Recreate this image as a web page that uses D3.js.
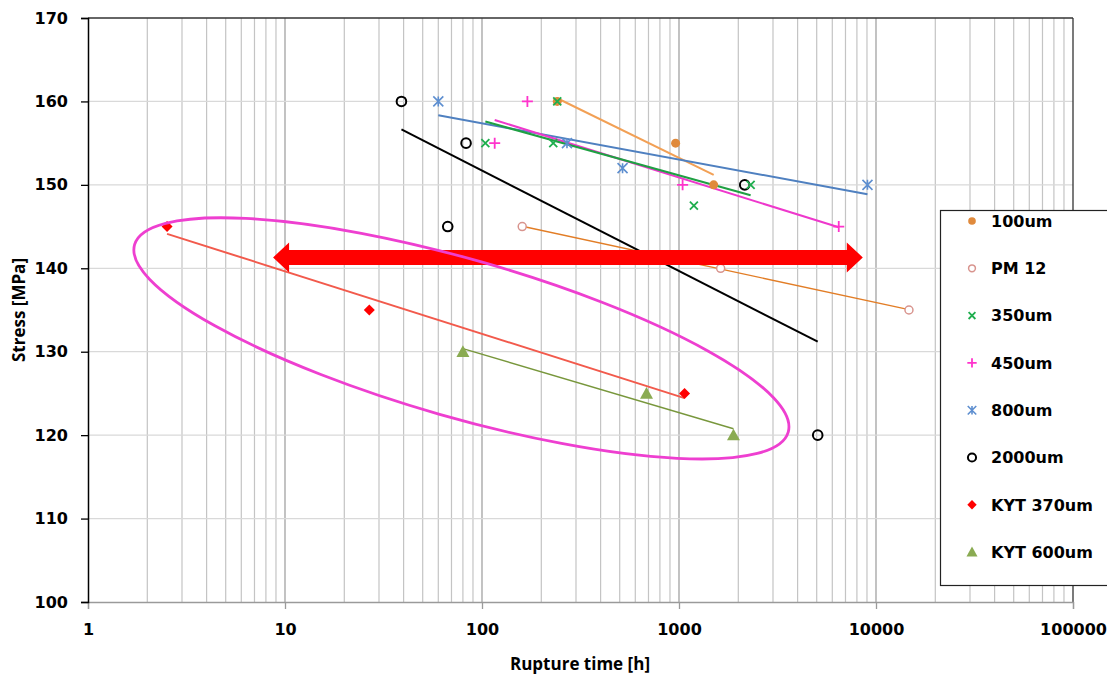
<!DOCTYPE html>
<html><head><meta charset="utf-8">
<script src="https://cdn.jsdelivr.net/npm/d3@7"></script>
<style>body{margin:0;background:#fff;}svg{display:block;}</style>
</head><body>
<svg id="c" width="1107" height="675"></svg>
<script>
// ---- data ----
const seriesNames = ["100um","PM 12","350um","450um","800um","2000um","KYT 370um","KYT 600um"];
const s100um   = [[241,160],[961,155],[1500,150]];
const sPM12    = [[160,145],[1627,140],[14700,135]];
const s350um   = [[104,155],[230,155],[241,160],[1190,147.5],[2310,150]];
const s450um   = [[116,155],[170,160],[1043,150],[6470,145]];
const s800um   = [[60,160],[270,155],[517,152],[9050,150]];
const s2000um  = [[39,160],[83,155],[67,145],[2155,150],[5060,120]];
const sKYT370  = [[2.52,145],[26.8,135],[1067,125]];
const sKYT600  = [[80,130],[684,125],[1890,120]];
const xTicks = [1,10,100,1000,10000,100000];
const yTicks = [100,110,120,130,140,150,160,170];
const arrowRange = [8.7, 8570, 141.3];      // x from, x to, stress
const ellipseCenter = [78.6, 131.6];        // rupture time, stress

const W=1107,H=675;
const svg=d3.select("#c");
const x=d3.scaleLog().domain([1,100000]).range([88,1073]);
const y=d3.scaleLinear().domain([100,170]).range([602,18]);

const styles={
 "100um":   {data:s100um, color:"#e08a3c", line:"#f2a055", lw:2,   sym:"dot"},
 "PM 12":   {data:sPM12,  color:"#d8948e", line:"#e27d26", lw:1.4, sym:"ocircle"},
 "350um":   {data:s350um, color:"#1fae4e", line:"#1fa043", lw:2,   sym:"x"},
 "450um":   {data:s450um, color:"#ff33cc", line:"#ee38cc", lw:2,   sym:"plus"},
 "800um":   {data:s800um, color:"#5e8fd0", line:"#4f80c0", lw:2,   sym:"star"},
 "2000um":  {data:s2000um,color:"#000",    line:"#000",    lw:2,   sym:"bcircle"},
 "KYT 370um":{data:sKYT370,color:"#ff0000",line:"#f25a4c", lw:2,   sym:"diamond"},
 "KYT 600um":{data:sKYT600,color:"#8aab52",line:"#78973c", lw:1.5, sym:"tri"}
};

// grid
const g=svg.append("g");
for(let k=0;k<5;k++){for(let m=2;m<=9;m++){const v=m*Math.pow(10,k);
 g.append("line").attr("x1",x(v)).attr("x2",x(v)).attr("y1",18).attr("y2",602).attr("stroke","#c4c4c4").attr("stroke-width",1.2);}}
xTicks.slice(1,-1).forEach(v=>g.append("line").attr("x1",x(v)).attr("x2",x(v)).attr("y1",18).attr("y2",602).attr("stroke","#a2a2a2").attr("stroke-width",1.3));
yTicks.slice(1,-1).forEach(v=>g.append("line").attr("x1",88).attr("x2",1073).attr("y1",y(v)).attr("y2",y(v)).attr("stroke","#d9d9d9").attr("stroke-width",1.2));

// borders/axes
svg.append("line").attr("x1",88).attr("x2",1073).attr("y1",18).attr("y2",18).attr("stroke","#333").attr("stroke-width",1.3);
svg.append("line").attr("x1",1073).attr("x2",1073).attr("y1",18).attr("y2",602).attr("stroke","#333").attr("stroke-width",1.3);
const xa=svg.append("g").attr("transform","translate(0,602)")
 .call(d3.axisBottom(x).tickValues(xTicks).tickFormat(d3.format("d")).tickSize(7).tickPadding(12));
xa.select(".domain").attr("stroke","#9a9a9a").attr("stroke-width",1.3);
xa.selectAll(".tick line").attr("stroke","#9a9a9a").attr("stroke-width",1.3);
const ya=svg.append("g").attr("transform","translate(88,0)")
 .call(d3.axisLeft(y).tickValues(yTicks).tickSize(7).tickPadding(13));
ya.select(".domain").attr("stroke","#000").attr("stroke-width",1.5);
ya.selectAll(".tick line").attr("stroke","#000").attr("stroke-width",1.3);
svg.selectAll(".tick text").attr("font-family","DejaVu Sans").attr("font-weight","bold").attr("font-size",16).attr("fill","#000");
xa.selectAll(".tick text").attr("dy","0.9em");

// titles
svg.append("text").attr("x",580).attr("y",670).attr("text-anchor","middle")
 .attr("font-family","Open Sans").attr("font-weight",700).attr("font-size",17).text("Rupture time [h]");
svg.append("text").attr("transform","translate(25,310) rotate(-90)").attr("text-anchor","middle")
 .attr("font-family","Open Sans").attr("font-weight",700).attr("font-size",17).text("Stress [MPa]");

// trend lines (least squares on log10 time)
function fit(data){const lx=data.map(d=>Math.log10(d[0])),ys=data.map(d=>d[1]);
 const mx=d3.mean(lx),my=d3.mean(ys);let sxy=0,sxx=0;
 lx.forEach((v,i)=>{sxy+=(v-mx)*(ys[i]-my);sxx+=(v-mx)*(v-mx);});
 const b=sxy/sxx,a=my-b*mx;const x0=d3.min(data,d=>d[0]),x1=d3.max(data,d=>d[0]);
 return [[x0,a+b*Math.log10(x0)],[x1,a+b*Math.log10(x1)]];}
const lineGen=d3.line().x(d=>x(d[0])).y(d=>y(d[1]));
const order=["PM 12","2000um","KYT 600um","KYT 370um","100um","800um","450um","350um"];
order.forEach(n=>{const s=styles[n];
 svg.append("path").attr("d",lineGen(fit(s.data))).attr("fill","none").attr("stroke",s.line).attr("stroke-width",s.lw);});

// markers
function marker(sel,sym,color,sc){
 sc=sc||1;
 if(sym==="dot") sel.append("circle").attr("r",4.5*sc).attr("fill",color);
 else if(sym==="ocircle") sel.append("circle").attr("r",4*sc).attr("fill","#fff").attr("stroke",color).attr("stroke-width",1.5);
 else if(sym==="bcircle") sel.append("circle").attr("r",4.8*sc).attr("fill","none").attr("stroke",color).attr("stroke-width",2);
 else if(sym==="x"){const r=4*sc;sel.append("path").attr("d",`M${-r},${-r}L${r},${r}M${-r},${r}L${r},${-r}`).attr("stroke",color).attr("stroke-width",1.8);}
 else if(sym==="plus"){const r=5.5*sc;sel.append("path").attr("d",`M${-r},0L${r},0M0,${-r}L0,${r}`).attr("stroke",color).attr("stroke-width",1.8);}
 else if(sym==="star"){const r=5*sc;sel.append("path").attr("d",`M${-r},${-r}L${r},${r}M${-r},${r}L${r},${-r}M0,${-r}L0,${r}`).attr("stroke",color).attr("stroke-width",1.6);}
 else if(sym==="diamond"){const r=5.5*sc;sel.append("path").attr("d",`M0,${-r}L${r},0L0,${r}L${-r},0Z`).attr("fill",color);}
 else if(sym==="tri"){const r=6.5*sc;sel.append("path").attr("d",`M0,${-r}L${r},${r*0.8}L${-r},${r*0.8}Z`).attr("fill",color);}
}
["100um","PM 12","2000um","KYT 600um","KYT 370um","800um","450um","350um"].forEach(n=>{const s=styles[n];
 s.data.forEach(d=>{const gg=svg.append("g").attr("transform",`translate(${x(d[0])},${y(d[1])})`);marker(gg,s.sym,s.color);});});

// red double arrow
(function(){const x0=x(arrowRange[0]),x1=x(arrowRange[1]),yc=y(arrowRange[2]);
 const hs=7.5,hh=15,hl=16;
 const pts=[[x0,yc],[x0+hl,yc-hh],[x0+hl,yc-hs],[x1-hl,yc-hs],[x1-hl,yc-hh],[x1,yc],[x1-hl,yc+hh],[x1-hl,yc+hs],[x0+hl,yc+hs],[x0+hl,yc+hh]];
 svg.append("path").attr("d","M"+pts.map(p=>p.join(",")).join("L")+"Z").attr("fill","#ff0000");})();

// magenta ellipse
svg.append("ellipse").attr("cx",0).attr("cy",0).attr("rx",340).attr("ry",79)
 .attr("transform",`translate(${x(ellipseCenter[0])},${y(ellipseCenter[1])}) rotate(16)`)
 .attr("fill","none").attr("stroke","#ee3fd0").attr("stroke-width",2.8);

// legend
const lg=svg.append("g");
lg.append("rect").attr("x",940.5).attr("y",210.5).attr("width",200).attr("height",375).attr("fill","#fff").attr("stroke","#222").attr("stroke-width",1.2);
seriesNames.forEach((n,i)=>{const s=styles[n];const yy=221+i*47.3;
 const gg=lg.append("g").attr("transform",`translate(972,${yy})`);marker(gg,s.sym,s.color,0.85);
 lg.append("text").attr("x",991).attr("y",yy).attr("dy","0.36em").attr("font-family","DejaVu Sans").attr("font-weight","bold").attr("font-size",16).text(n);});
</script>
</body></html>
